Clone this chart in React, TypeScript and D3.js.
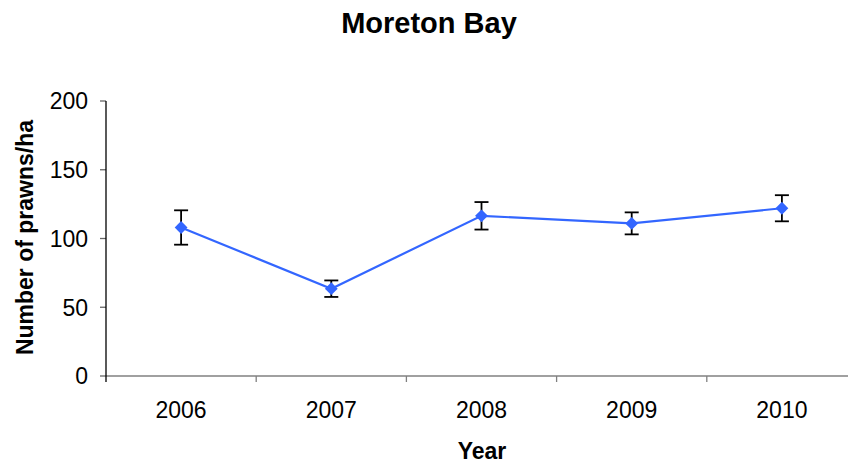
import React from "react";
import * as d3 from "d3";

const years = ["2006", "2007", "2008", "2009", "2010"];
const means = [108, 63.5, 116.5, 111, 122];
const errors = [12.5, 6, 10, 8, 9.5];
const yTicks = [0, 50, 100, 150, 200];

const W = 848;
const H = 464;
const FONT = "'Liberation Sans', Arial, sans-serif";

export default function App() {
  const x = d3.scaleBand<string>().domain(years).range([106, 857]).padding(0);
  const y = d3.scaleLinear().domain([0, 200]).range([376, 101]);
  const cx = (d: string) => (x(d) as number) + x.bandwidth() / 2;
  const pts = years.map((yr, i) => ({ yr, v: means[i], e: errors[i] }));
  const line = d3
    .line<{ yr: string; v: number }>()
    .x((d) => cx(d.yr))
    .y((d) => y(d.v));
  const diamond = d3.symbol().type(d3.symbolDiamond2).size(105)();
  const xTickPos = years.map((yr) => x(yr) as number).concat([857]);

  return (
    <svg
      width={W}
      height={H}
      style={{ position: "absolute", left: 0, top: 0, background: "#fff" }}
      fontFamily={FONT}
    >
      <rect x={0} y={0} width={W} height={H} fill="#fff" />
      <text x={429} y={33} textAnchor="middle" fontSize={29} fontWeight="bold" fill="#000">
        Moreton Bay
      </text>

      {/* y axis ticks and labels */}
      {yTicks.map((t) => (
        <g key={t}>
          <line x1={100} x2={106} y1={y(t)} y2={y(t)} stroke="#666" strokeWidth={1.3} />
          <text x={88} y={y(t)} dy="0.36em" textAnchor="end" fontSize={23} fill="#000">
            {t}
          </text>
        </g>
      ))}

      {/* x axis */}
      <line x1={106} x2={857} y1={376} y2={376} stroke="#808080" strokeWidth={1.5} />
      {xTickPos.map((p, i) => (
        <line key={i} x1={p} x2={p} y1={376} y2={382} stroke={i === 0 ? "#000" : "#808080"} strokeWidth={1.3} />
      ))}
      {years.map((yr) => (
        <text key={yr} x={cx(yr)} y={418} textAnchor="middle" fontSize={23} fill="#000">
          {yr}
        </text>
      ))}
      <line x1={106} x2={106} y1={101} y2={376} stroke="#000" strokeWidth={1.3} />

      {/* axis titles */}
      <text x={482} y={459} textAnchor="middle" fontSize={23} fontWeight="bold" fill="#000">
        Year
      </text>
      <text
        transform={`translate(33,237.5) rotate(-90)`}
        textAnchor="middle"
        fontSize={23}
        fontWeight="bold"
        fill="#000"
      >
        Number of prawns/ha
      </text>

      {/* series line */}
      <path d={line(pts) as string} fill="none" stroke="#3366FF" strokeWidth={2.2} />

      {/* error bars */}
      {pts.map((d) => (
        <g key={"e" + d.yr} stroke="#000" strokeWidth={1.8}>
          <line x1={cx(d.yr)} x2={cx(d.yr)} y1={y(d.v + d.e)} y2={y(d.v - d.e)} />
          <line x1={cx(d.yr) - 7} x2={cx(d.yr) + 7} y1={y(d.v + d.e)} y2={y(d.v + d.e)} />
          <line x1={cx(d.yr) - 7} x2={cx(d.yr) + 7} y1={y(d.v - d.e)} y2={y(d.v - d.e)} />
        </g>
      ))}

      {/* markers */}
      {pts.map((d) => (
        <path
          key={"m" + d.yr}
          d={diamond as string}
          transform={`translate(${cx(d.yr)},${y(d.v)})`}
          fill="#3366FF"
        />
      ))}
    </svg>
  );
}
